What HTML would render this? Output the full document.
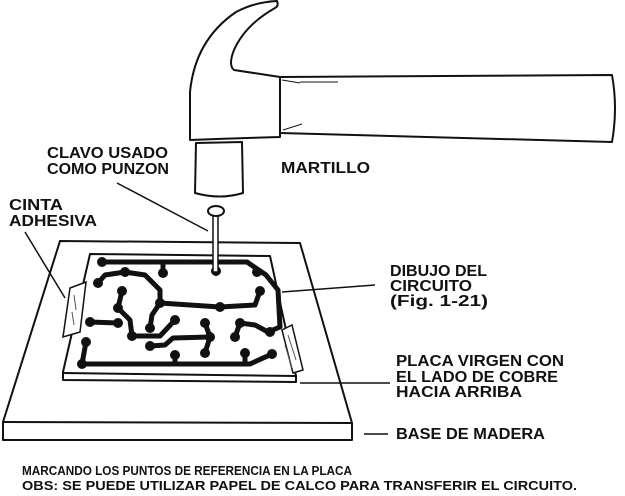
<!DOCTYPE html>
<html><head><style>body{margin:0;background:#fff}svg{display:block}</style></head><body>
<svg width="625" height="496" viewBox="0 0 625 496" xmlns="http://www.w3.org/2000/svg" font-family="Liberation Sans, sans-serif" font-weight="bold" fill="#111">
<g fill="none" stroke="#111" stroke-width="2" stroke-linejoin="round">
<path d="M60,241 L300,243 L352,423 L352,440 L3,440 L3,422 Z" fill="#fff"/>
<path d="M3,422 L352,423"/>
<path d="M90,254 L270,256 L296,376 L296,382 L63,380 L63,372 Z" fill="#fff"/>
<path d="M63,373 L296,376"/>
<g stroke-width="5" stroke-linecap="round">
<path d="M102,262 L247,262 L266,275 L278,290 L280,327"/>
<path d="M163,262 L163,273"/>
<path d="M98,283 L105,275 L125,272 L145,275 L160,290 L160,303 L152,315 L150,328"/>
<path d="M160,303 L220,307 L255,305 L260,291"/>
<path d="M122,291 L118,308 L130,320 L132,336 L160,336 L175,320"/>
<path d="M90,322 L118,323"/>
<path d="M150,346 L165,345 L173,338 L210,337"/>
<path d="M205,323 L210,337 L205,353"/>
<path d="M235,337 L240,323 L255,325 L268,332 L280,327"/>
<path d="M86,342 L82,364 L250,364 L272,354"/>
<path d="M175,355 L175,364 M245,353 L245,364"/>
</g>
</g>
<g fill="#111">
<circle cx="102" cy="262" r="5"/><circle cx="163" cy="273" r="5"/><circle cx="216" cy="271" r="5"/><circle cx="257" cy="272" r="5"/>
<circle cx="98" cy="283" r="5"/><circle cx="125" cy="272" r="5"/><circle cx="260" cy="291" r="5"/><circle cx="160" cy="303" r="5"/>
<circle cx="220" cy="307" r="5"/><circle cx="122" cy="291" r="5"/><circle cx="118" cy="308" r="5"/><circle cx="90" cy="322" r="5"/>
<circle cx="118" cy="323" r="5"/><circle cx="150" cy="328" r="5"/><circle cx="175" cy="320" r="5"/><circle cx="132" cy="336" r="5"/>
<circle cx="205" cy="323" r="5"/><circle cx="210" cy="337" r="5"/><circle cx="205" cy="353" r="5"/><circle cx="150" cy="346" r="5"/>
<circle cx="240" cy="323" r="5"/><circle cx="235" cy="337" r="5"/><circle cx="270" cy="332" r="5"/><circle cx="86" cy="342" r="5"/>
<circle cx="82" cy="364" r="5"/><circle cx="175" cy="355" r="5"/><circle cx="245" cy="353" r="5"/><circle cx="272" cy="354" r="5"/>
</g>
<g fill="#fff" stroke="#111" stroke-width="1.5">
<path d="M70,288 L86,282 L80,332 L63,337 Z"/>
<path d="M282,330 L292,325 L303,370 L293,373 Z"/>
<rect x="213" y="214" width="5" height="58"/>
<ellipse cx="216" cy="211" rx="8" ry="5" stroke-width="2"/>
</g>
<g fill="none" stroke="#555" stroke-width="1"><path d="M74,295 L76,310 M72,312 L74,325 M288,335 L296,360 M285,345 L292,368"/></g>
<g fill="#fff" stroke="#111" stroke-width="2" stroke-linejoin="round">
<path d="M280,77 L612,75 Q618,108 612,142 L280,133 Z"/>
<path d="M196,143 L242,142 L243,193 Q220,200 195,193 Z"/>
<path d="M190,140 L190,92 Q195,40 236,12 Q255,2 277,1 Q279,6 275,8 Q245,25 234,50 Q228,65 234,70 L280,77 L280,137 Q240,138 190,140 Z"/>
</g>
<g fill="none" stroke="#111" stroke-width="1"><path d="M282,80 L300,83 M300,82 L338,82 M283,130 L302,124"/></g>
<g stroke="#111" stroke-width="1.5">
<line x1="117" y1="183" x2="208" y2="231"/>
<line x1="25" y1="232" x2="65" y2="298"/>
<line x1="282" y1="292" x2="375" y2="285"/>
<line x1="300" y1="383" x2="390" y2="383"/>
<line x1="364" y1="434" x2="388" y2="434"/>
</g>
<g font-size="16" lengthAdjust="spacingAndGlyphs">
<text x="47" y="158" textLength="121" lengthAdjust="spacingAndGlyphs">CLAVO USADO</text>
<text x="47" y="174" textLength="122" lengthAdjust="spacingAndGlyphs">COMO PUNZON</text>
<text x="9" y="210" textLength="54" lengthAdjust="spacingAndGlyphs">CINTA</text>
<text x="9" y="226" textLength="88" lengthAdjust="spacingAndGlyphs">ADHESIVA</text>
<text x="281" y="173" textLength="89" lengthAdjust="spacingAndGlyphs">MARTILLO</text>
<text x="390" y="276" textLength="97" lengthAdjust="spacingAndGlyphs">DIBUJO DEL</text>
<text x="390" y="291" textLength="82" lengthAdjust="spacingAndGlyphs">CIRCUITO</text>
<text x="390" y="306" textLength="98" lengthAdjust="spacingAndGlyphs">(Fig.  1-21)</text>
<text x="396" y="366" textLength="168" lengthAdjust="spacingAndGlyphs">PLACA VIRGEN CON</text>
<text x="396" y="382" textLength="162" lengthAdjust="spacingAndGlyphs">EL LADO DE COBRE</text>
<text x="396" y="397" textLength="126" lengthAdjust="spacingAndGlyphs">HACIA ARRIBA</text>
<text x="396" y="439" textLength="149" lengthAdjust="spacingAndGlyphs">BASE DE MADERA</text>
</g>
<g font-size="13">
<text x="22" y="475" textLength="330" lengthAdjust="spacingAndGlyphs">MARCANDO LOS PUNTOS DE REFERENCIA EN LA PLACA</text>
<text x="22" y="490" textLength="555" lengthAdjust="spacingAndGlyphs">OBS: SE PUEDE UTILIZAR PAPEL DE CALCO PARA TRANSFERIR EL CIRCUITO.</text>
</g>
</svg>
</body></html>
